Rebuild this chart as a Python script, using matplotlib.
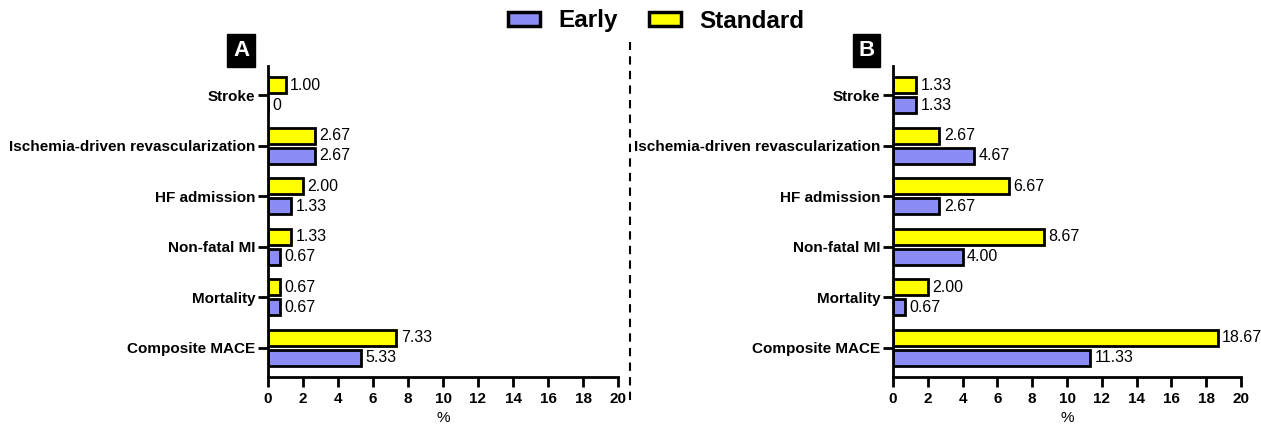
import matplotlib
matplotlib.use('Agg')
import matplotlib.pyplot as plt
import numpy as np

plt.rcParams.update({'font.family': ['Liberation Sans', 'DejaVu Sans']})

categories = ['Stroke', 'Ischemia-driven revascularization', 'HF admission',
              'Non-fatal MI', 'Mortality', 'Composite MACE']
early_a = [0, 2.67, 1.33, 0.67, 0.67, 5.33]
standard_a = [1.00, 2.67, 2.00, 1.33, 0.67, 7.33]
early_b = [1.33, 4.67, 2.67, 4.00, 0.67, 11.33]
standard_b = [1.33, 2.67, 6.67, 8.67, 2.00, 18.67]
xticks = list(range(0, 21, 2))

BLUE, YELLOW = '#8c8cf6', '#ffff00'

fig = plt.figure(figsize=(12.61, 4.24), dpi=100)
axA = fig.add_axes([268 / 1261, 47 / 424, 350 / 1261, 311 / 424])
axB = fig.add_axes([893 / 1261, 47 / 424, 348 / 1261, 311 / 424])

def panel(ax, early, standard, letter):
    y = np.arange(len(categories))
    h = 0.32
    ax.barh(y - 0.2, standard, height=h, color=YELLOW, edgecolor='black', linewidth=2)
    ax.barh(y + 0.2, early, height=h, color=BLUE, edgecolor='black', linewidth=2)
    for yi, v in zip(y, standard):
        ax.text(v + 0.25, yi - 0.2, f'{v:.2f}' if v else '0', va='center', ha='left', fontsize=11.5)
    for yi, v in zip(y, early):
        ax.text(v + 0.25, yi + 0.2, f'{v:.2f}' if v else '0', va='center', ha='left', fontsize=11.5)
    ax.set_ylim(len(categories) - 0.42, -0.58)
    ax.set_xlim(0, 20)
    ax.set_yticks(y)
    ax.set_yticklabels(categories, fontsize=11, fontweight='bold')
    ax.set_xticks(xticks)
    ax.set_xticklabels([str(t) for t in xticks], fontsize=11, fontweight='bold')
    ax.set_xlabel('%', fontsize=11, labelpad=4)
    for s in ('top', 'right'):
        ax.spines[s].set_visible(False)
    for s in ('left', 'bottom'):
        ax.spines[s].set_linewidth(2)
    ax.tick_params(axis='both', width=2, length=7, colors='black')
    ax.tick_params(axis='y', pad=2)
    ax.text(-0.077, 1.05, letter, transform=ax.transAxes, color='white', fontsize=16,
            fontweight='bold', ha='center', va='center',
            bbox=dict(boxstyle='square,pad=0.25', fc='black', ec='black'))

panel(axA, early_a, standard_a, 'A')
panel(axB, early_b, standard_b, 'B')

fig.add_artist(plt.Line2D([630 / 1261, 630 / 1261], [24 / 424, 382 / 424],
                          color='black', linestyle=(0, (4, 3)), linewidth=1.5))

handles = [plt.Rectangle((0, 0), 1, 1, fc=BLUE, ec='black', lw=2.5),
           plt.Rectangle((0, 0), 1, 1, fc=YELLOW, ec='black', lw=2.5)]
fig.legend(handles, ['Early', 'Standard'], loc='center', bbox_to_anchor=(656 / 1261, 1 - 21 / 424),
           ncol=2, frameon=False, prop={'size': 17.5, 'weight': 'bold'},
           handlelength=1.3, handleheight=0.5, columnspacing=1.3, handletextpad=0.75)

fig.savefig('out.png')
